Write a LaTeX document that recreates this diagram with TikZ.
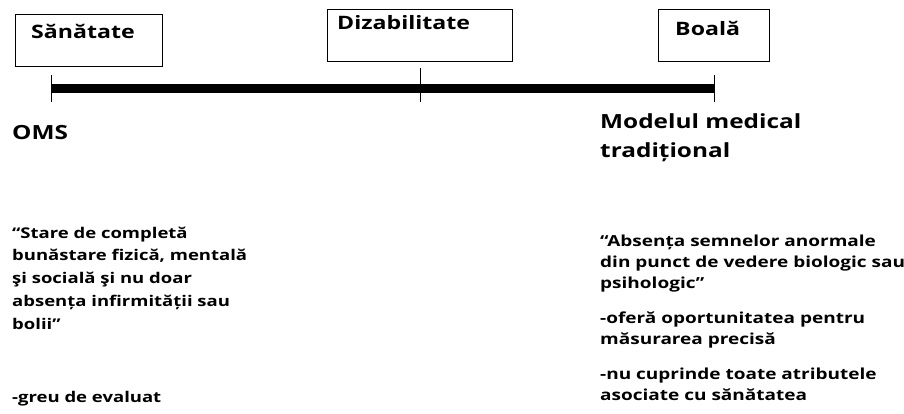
\documentclass[tikz,border=0pt]{standalone}
\usepackage{fontspec}
\setmainfont{Open Sans}[FakeStretch=1.25, UprightFont=* Bold]
\begin{document}
\begin{tikzpicture}[x=1pt,y=-1pt,
  box/.style={draw, line width=0.8pt, inner sep=0pt},
  lbl/.style={font=\fontsize{18.5}{20}\selectfont, anchor=base west, inner sep=0pt},
  head/.style={font=\fontsize{19.5}{29}\selectfont, anchor=base west, inner sep=0pt, align=left},
  body/.style={font=\fontsize{14.8}{22.7}\selectfont, anchor=base west, inner sep=0pt, align=left},
  bodyr/.style={font=\fontsize{15.2}{20.8}\selectfont, anchor=base west, inner sep=0pt, align=left},
  tick/.style={line width=0.8pt}]
\useasboundingbox (0,0) rectangle (904,414);
% boxes
\node[box, minimum width=147pt, minimum height=52pt, anchor=north west] (b1) at (15,14) {};
\node[box, minimum width=185pt, minimum height=52pt, anchor=north west] (b2) at (327,9) {};
\node[box, minimum width=111pt, minimum height=52pt, anchor=north west] (b3) at (658,9) {};
\node[lbl] (t1) at (31,39) {Sănătate};
\node[lbl] (t2) at (337,30) {Dizabilitate};
\node[lbl] (t3) at (675,36) {Boală};
% axis
\coordinate (a) at (51,89);
\coordinate (m) at (420,89);
\coordinate (e) at (714,89);
\draw[line width=9pt] (a) -- (e);
\draw[tick] ([yshift=-13pt]a) -- ([yshift=14pt]a);
\draw[tick] ([yshift=-13pt]m) -- ([yshift=21pt]m);
\draw[tick] ([yshift=-13pt]e) -- ([yshift=14pt]e);
% headings
\node[head] (oms) at (12,140) {OMS};
\node[head] (mod) at (600,158) {Modelul medical\\tradițional};
% left texts
\node[body] (q1) at (12,329) {“Stare de completă\\bunăstare fizică, mentală\\şi socială şi nu doar\\absența infirmității sau\\bolii”};
\node[body] (g1) at (12,402) {-greu de evaluat};
% right texts
\node[bodyr] (q2) at (600,288) {“Absența semnelor anormale\\din punct de vedere biologic sau\\psihologic”};
\node[bodyr] (o2) at (600,344) {-oferă oportunitatea pentru\\măsurarea precisă};
\node[bodyr] (n2) at (600,400) {-nu cuprinde toate atributele\\asociate cu sănătatea};
\end{tikzpicture}
\end{document}
